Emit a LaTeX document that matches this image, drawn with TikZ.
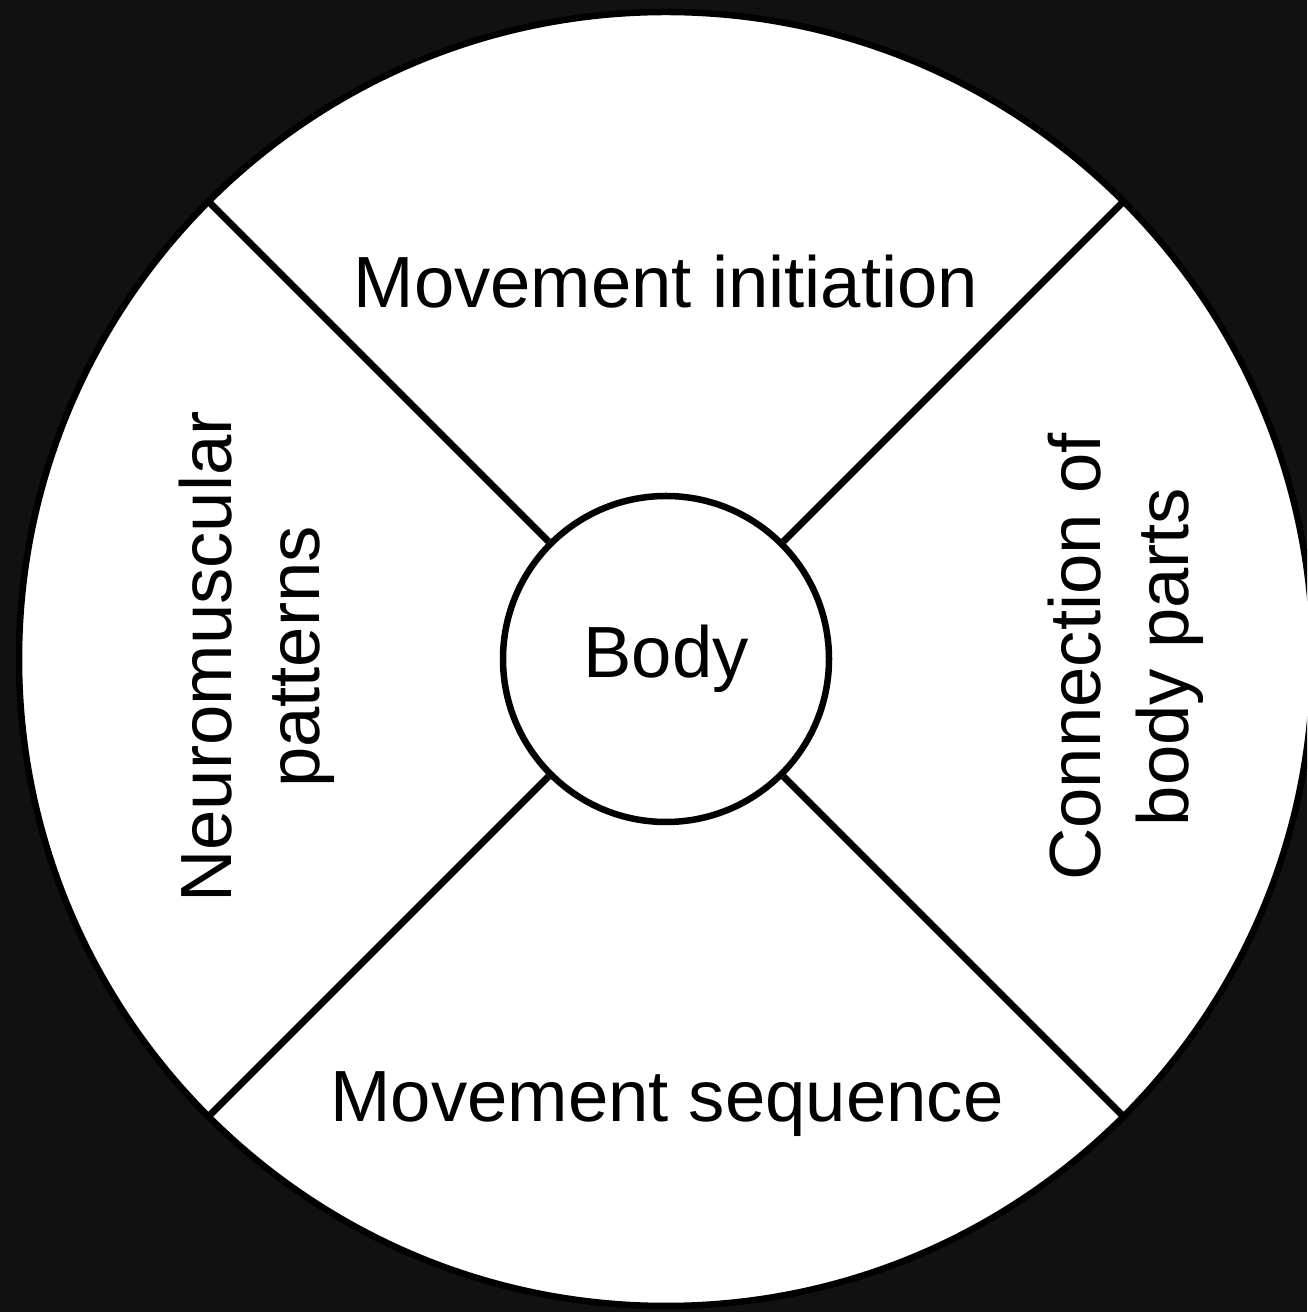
\documentclass[tikz,border=0pt]{standalone}
\usepackage{fontspec}
\setmainfont{Liberation Sans}
\definecolor{bg}{HTML}{111111}
\begin{document}
\begin{tikzpicture}[x=1pt,y=1pt,
  lbl/.style={font=\fontsize{72.5}{88}\selectfont, inner sep=0pt, align=center},
  ring/.style={circle, draw=black, line width=6.5pt, fill=white, inner sep=0pt},
  spoke/.style={draw=black, line width=7pt}]
\fill[bg] (0,0) rectangle (1307,1312);
\useasboundingbox (0,0) rectangle (1307,1312);
\begin{scope}
  \clip (0,0) rectangle (1307,1312);
  \node[ring, minimum size=1294pt] (outer) at (666,653) {};
\end{scope}
\node[ring, lbl, minimum size=326pt] (body) at (666,653) {Body};
\draw[spoke] (body.45) -- (outer.45);
\draw[spoke] (body.135) -- (outer.135);
\draw[spoke] (body.225) -- (outer.225);
\draw[spoke] (body.315) -- (outer.315);
\node[lbl, anchor=base] (init) at (666,1004) {Movement initiation};
\node[lbl, anchor=base] (seq) at (667,190) {Movement sequence};
\node[lbl, rotate=90] (neuro) at (257,655) {Neuromuscular\\patterns};
\node[lbl, rotate=90] (conn) at (1126,655) {Connection of\\body parts};
\end{tikzpicture}
\end{document}
